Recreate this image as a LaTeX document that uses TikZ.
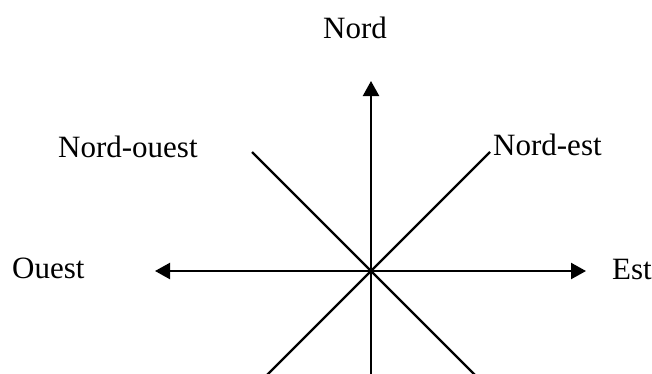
\documentclass[tikz,border=0pt]{standalone}
\usepackage{fontspec}
\setmainfont{Liberation Serif}
\usetikzlibrary{arrows.meta}
\begin{document}
\begin{tikzpicture}[x=1pt,y=-1pt,
  lbl/.style={inner sep=0pt,anchor=base west,font=\fontsize{31}{37}\selectfont},
  ray/.style={line width=2.3pt},
  arr/.style={ray,-{Triangle[length=15pt,width=16pt]}}]
\useasboundingbox (0,0) rectangle (652,373);
\coordinate (C) at (371,271);
\coordinate (Ntip) at (371,81);
\coordinate (Sbot) at (371,376);
\coordinate (Wtip) at (155,271);
\coordinate (Etip) at (586,271);
\coordinate (NWend) at (252,152);
\coordinate (NEend) at (490,152);
\coordinate (SWend) at (266,376);
\coordinate (SEend) at (476,376);
\node[lbl] (nord) at (323,38) {Nord};
\node[lbl] (nordouest) at (58,157) {Nord-ouest};
\node[lbl] (nordest) at (493,155) {Nord-est};
\node[lbl] (ouest) at (12,278) {Ouest};
\node[lbl] (est) at (612,279) {Est};
\draw[arr] (Sbot) -- (Ntip);
\draw[arr] (C) -- (Wtip);
\draw[arr] (C) -- (Etip);
\draw[ray] (NWend) -- (SEend);
\draw[ray] (NEend) -- (SWend);
\end{tikzpicture}
\end{document}
